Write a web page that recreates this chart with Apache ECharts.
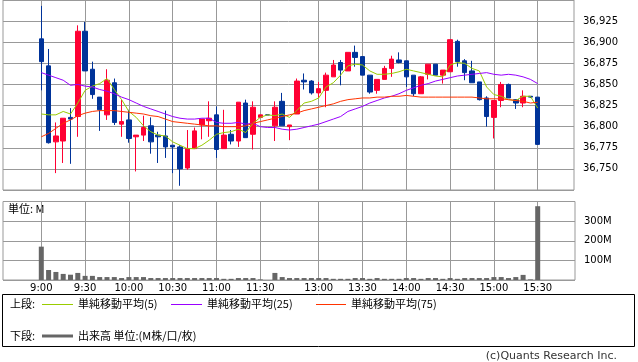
<!DOCTYPE html>
<html><head><meta charset="utf-8">
<script src="https://cdn.jsdelivr.net/npm/echarts@6/dist/echarts.min.js"></script>
<style>html,body{margin:0;padding:0;background:#fff}#c{width:638px;height:362px}</style>
</head><body><div id="c"></div>
<script>
const times = ['9:00','9:05','9:10','9:15','9:20','9:25','9:30','9:35','9:40','9:45','9:50','9:55','10:00','10:05','10:10','10:15','10:20','10:25','10:30','10:35','10:40','10:45','10:50','10:55','11:00','11:05','11:10','11:15','11:20','11:25','11:30','12:25','12:30','12:35','12:40','12:45','12:50','12:55','13:00','13:05','13:10','13:15','13:20','13:25','13:30','13:35','13:40','13:45','13:50','13:55','14:00','14:05','14:10','14:15','14:20','14:25','14:30','14:35','14:40','14:45','14:50','14:55','15:00','15:05','15:10','15:15','15:20','15:25','15:30'];
const xTickLabels = ['9:00','9:30','10:00','10:30','11:00','11:30','13:00','13:30','14:00','14:30','15:00','15:30'];

const opens  = [36904,36872,36782,36783,36811,36812,36913,36868,36835,36814,36852,36803,36808,36788,36790,36801,36790,36789,36778,36776,36751,36774,36802,36807,36814,36774,36791,36783,36828,36791,36811,36814,36801,36830,36800,36815,36855,36854,36840,36843,36859,36876,36866,36888,36883,36861,36843,36856,36869,36879,36878,36861,36839,36862,36874,36861,36865,36901,36878,36866,36853,36834,36811,36831,36850,36832,36828,36836,36835];
const closes = [36877,36781,36789,36810,36809,36913,36866,36838,36820,36855,36805,36806,36786,36790,36799,36782,36788,36776,36776,36750,36774,36795,36809,36810,36773,36790,36783,36829,36787,36823,36814,36814,36823,36801,36802,36854,36853,36840,36845,36861,36873,36867,36888,36882,36861,36841,36856,36869,36880,36876,36859,36839,36859,36874,36861,36867,36903,36877,36864,36852,36832,36812,36831,36850,36834,36828,36836,36835,36779];
const lows   = [36843,36780,36745,36757,36756,36788,36866,36833,36795,36808,36802,36788,36781,36747,36783,36768,36757,36763,36745,36730,36749,36774,36785,36788,36763,36774,36779,36776,36787,36773,36811,36814,36783,36801,36784,36815,36844,36838,36834,36823,36859,36849,36866,36871,36861,36839,36839,36856,36859,36875,36847,36836,36839,36856,36861,36851,36865,36871,36855,36852,36831,36800,36786,36823,36834,36821,36823,36834,36779];
const highs  = [36943,36892,36805,36810,36822,36920,36924,36877,36835,36868,36857,36832,36820,36790,36813,36811,36794,36819,36778,36778,36796,36799,36809,36830,36824,36820,36796,36829,36832,36830,36814,36814,36830,36840,36802,36857,36863,36855,36853,36864,36879,36879,36888,36896,36883,36861,36856,36872,36884,36888,36878,36861,36860,36874,36874,36867,36903,36903,36880,36878,36853,36836,36831,36853,36851,36832,36843,36836,36835];

const ma5  = [36815,36814,36814,36818,36815,36828,36843,36848,36851,36857,36844,36832,36818,36811,36801,36794,36790,36789,36782,36778,36774,36774,36778,36784,36791,36793,36794,36797,36793,36804,36811,36814,36813,36815,36811,36819,36828,36830,36834,36847,36852,36861,36872,36874,36873,36866,36862,36862,36863,36865,36868,36866,36864,36862,36860,36859,36873,36876,36875,36869,36866,36847,36838,36836,36832,36831,36836,36836,36822];
const ma25 = [36864,36861,36858,36855,36849,36850,36848,36847,36844,36842,36839,36835,36832,36828,36824,36821,36818,36815,36812,36810,36809,36809,36810,36810,36805,36804,36804,36805,36803,36804,36800,36799,36799,36797,36796,36797,36799,36801,36803,36806,36809,36812,36818,36821,36824,36828,36831,36834,36836,36839,36843,36846,36849,36851,36854,36856,36858,36860,36861,36862,36863,36864,36862,36861,36862,36861,36859,36856,36851];
const ma75 = [36788,36792,36798,36804,36808,36813,36816,36818,36819,36819,36819,36818,36817,36816,36815,36813,36812,36809,36806,36805,36804,36803,36802,36801,36801,36800,36800,36800,36801,36804,36806,36808,36810,36812,36814,36816,36819,36821,36823,36825,36827,36830,36832,36833,36834,36834,36835,36835,36836,36836,36837,36836,36835,36835,36835,36835,36835,36835,36835,36835,36834,36833,36833,36833,36832,36831,36830,36828,36829];

const volumeM = [170,51,41,31,27,36,21,21,15,15,15,10,15,15,15,10,10,10,10,10,10,10,10,10,10,6,6,10,10,10,3,0,36,15,10,10,10,10,10,10,6,6,6,10,10,6,10,6,6,6,10,10,6,10,10,6,10,6,10,10,10,10,15,15,10,15,26,3,376];

const candles = times.map((t, i) => [opens[i], closes[i], lows[i], highs[i]]);

const GRID = '#999999';
const AX_FONT = {fontFamily: 'DejaVu Sans', fontSize: 10, color: '#000'};
const JP = 'Noto Sans CJK JP';
const isTick = (i, v) => xTickLabels.indexOf(times[i]) >= 0;
const fmtComma = v => String(v).replace(/\B(?=(\d{3})+(?!\d))/g, ',');

const chart = echarts.init(document.getElementById('c'), null, {renderer: 'canvas'});
const option = {
  animation: false,
  backgroundColor: '#fff',
  grid: [
    {left: 3, right: 64, top: 0, height: 190, show: true, borderColor: GRID, borderWidth: 1, outerBoundsMode: 'none', containLabel: false},
    {left: 41.3, right: 100.3, top: 0, height: 190, outerBoundsMode: 'none', containLabel: false},
    {left: 3, right: 63, top: 201.5, height: 78.5, show: true, borderColor: GRID, borderWidth: 1, outerBoundsMode: 'none', containLabel: false},
    {left: 41.3, right: 100.3, top: 201.5, height: 78.5, outerBoundsMode: 'none', containLabel: false}
  ],
  xAxis: [
    {type: 'value', gridIndex: 0, show: false, min: 0, max: 1},
    {type: 'category', gridIndex: 1, data: times, boundaryGap: false,
      axisLine: {show: false}, axisTick: {show: false}, axisLabel: {show: false},
      splitLine: {show: true, interval: isTick, lineStyle: {color: GRID, width: 1}}},
    {type: 'value', gridIndex: 2, show: false, min: 0, max: 1},
    {type: 'category', gridIndex: 3, data: times, boundaryGap: false,
      axisLine: {show: false}, axisTick: {show: false},
      axisLabel: Object.assign({show: true, interval: isTick, margin: 3, hideOverlap: false}, AX_FONT),
      splitLine: {show: true, interval: isTick, lineStyle: {color: GRID, width: 1}}}
  ],
  yAxis: [
    {type: 'value', gridIndex: 0, position: 'right', min: 36725, max: 36950, interval: 25,
      axisLine: {show: false}, axisTick: {show: true, length: 5, lineStyle: {color: GRID}},
      axisLabel: Object.assign({margin: 9, showMinLabel: false, showMaxLabel: false, formatter: fmtComma}, AX_FONT),
      splitLine: {show: true, lineStyle: {color: GRID, width: 1}}},
    {type: 'value', gridIndex: 1, show: false, min: 36725, max: 36950, splitLine: {show: false}},
    {type: 'value', gridIndex: 2, position: 'right', min: 0, max: 400, interval: 100,
      axisLine: {show: false}, axisTick: {show: true, length: 5, lineStyle: {color: GRID}},
      axisLabel: Object.assign({margin: 9, showMinLabel: false, showMaxLabel: false, formatter: v => v + 'M'}, AX_FONT),
      splitLine: {show: true, lineStyle: {color: GRID, width: 1}}},
    {type: 'value', gridIndex: 3, show: false, min: 0, max: 400, splitLine: {show: false}}
  ],
  series: [
    {type: 'candlestick', xAxisIndex: 1, yAxisIndex: 1, data: candles, barWidth: 5, clip: false, z: 3,
      itemStyle: {color: '#ff0033', color0: '#003399', borderColor: '#ff0033', borderColor0: '#003399', borderColorDoji: '#003399', borderWidth: 1}},
    {type: 'line', name: '単純移動平均(5)', xAxisIndex: 1, yAxisIndex: 1, data: ma5, symbol: 'none', clip: false, z: 4,
      lineStyle: {color: '#99cc00', width: 1}},
    {type: 'line', name: '単純移動平均(25)', xAxisIndex: 1, yAxisIndex: 1, data: ma25, symbol: 'none', clip: false, z: 4,
      lineStyle: {color: '#9900ff', width: 1}},
    {type: 'line', name: '単純移動平均(75)', xAxisIndex: 1, yAxisIndex: 1, data: ma75, symbol: 'none', clip: false, z: 4,
      lineStyle: {color: '#ff3300', width: 1}},
    {type: 'bar', name: '出来高', xAxisIndex: 3, yAxisIndex: 3, data: volumeM, barWidth: 5, clip: false,
      itemStyle: {color: '#666666'}}
  ],
  graphic: [
    {type: 'text', left: 8, top: 203, style: {text: '単位: M', font: '11px "' + JP + '"', fill: '#000'}},
    {type: 'rect', shape: {x: 2.5, y: 294.5, width: 632, height: 52}, style: {fill: 'none', stroke: '#000', lineWidth: 1}},
    {type: 'text', x: 10, y: 304, style: {text: '上段:', font: '11px "' + JP + '"', fill: '#000', verticalAlign: 'middle'}},
    {type: 'line', shape: {x1: 42, y1: 304.5, x2: 73, y2: 304.5}, style: {stroke: '#99cc00', lineWidth: 1}},
    {type: 'text', x: 78, y: 304, style: {text: '単純移動平均(5)', font: '11px "' + JP + '"', fill: '#000', verticalAlign: 'middle'}},
    {type: 'line', shape: {x1: 171, y1: 304.5, x2: 202, y2: 304.5}, style: {stroke: '#9900ff', lineWidth: 1}},
    {type: 'text', x: 207, y: 304, style: {text: '単純移動平均(25)', font: '11px "' + JP + '"', fill: '#000', verticalAlign: 'middle'}},
    {type: 'line', shape: {x1: 316, y1: 304.5, x2: 346, y2: 304.5}, style: {stroke: '#ff3300', lineWidth: 1}},
    {type: 'text', x: 351, y: 304, style: {text: '単純移動平均(75)', font: '11px "' + JP + '"', fill: '#000', verticalAlign: 'middle'}},
    {type: 'text', x: 10, y: 336, style: {text: '下段:', font: '11px "' + JP + '"', fill: '#000', verticalAlign: 'middle'}},
    {type: 'line', shape: {x1: 42, y1: 336, x2: 73, y2: 336}, style: {stroke: '#666666', lineWidth: 3}},
    {type: 'text', x: 78, y: 336, style: {text: '出来高 単位:(M株/口/枚)', font: '11px "' + JP + '"', fill: '#000', verticalAlign: 'middle'}},
    {type: 'text', x: 617, y: 356, style: {text: '(c)Quants Research Inc.', font: '11px "DejaVu Sans"', fill: '#333', align: 'right', verticalAlign: 'middle'}}
  ]
};
chart.setOption(option);
</script>
</body></html>
